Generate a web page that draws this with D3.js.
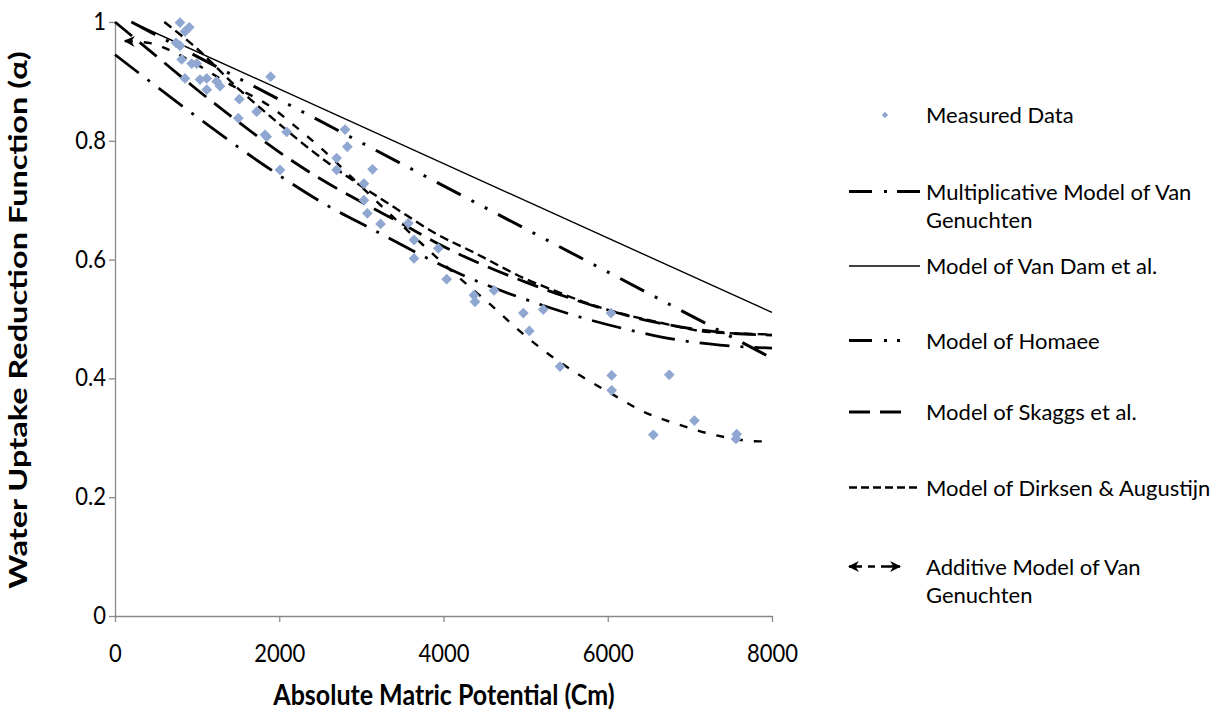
<!DOCTYPE html>
<html>
<head>
<meta charset="utf-8">
<title>Water uptake reduction</title>
<style>
  body { margin: 0; background: #fff; }
  svg text { font-family: Lato, "Open Sans", sans-serif; fill: #000; }
  .axis path, .axis line { stroke: #898989; stroke-width: 1.3px; }
  .axis text { font-size: 22px; font-family: Lato, sans-serif; fill: #000; }
  .title { font-size: 25px; font-weight: bold; }
  .legend text { font-size: 22px; }
</style>
</head>
<body>
<svg width="1223" height="715"></svg>
<script src="https://d3js.org/d3.v7.min.js"></script>
<script>

// ---- data ----
const xTicks = [0, 2000, 4000, 6000, 8000]
const yTicks = [0, 0.2, 0.4, 0.6, 0.8, 1]

const measuredX = [791, 904, 852, 743, 791, 812, 934, 995, 852, 1035, 1117, 1238, 1278, 1117, 1895,
  1514, 1725, 1502, 1847, 1826, 2091, 2009, 2801, 2829, 2699, 2699, 3136, 3031, 3031, 3073, 3234,
  3571, 3641, 3641, 3937, 4039, 4371, 4384, 4615, 4972, 5045, 5215, 6040, 5419, 6048, 6048, 6749,
  6555, 7055, 7570, 7561]
const measuredY = [0.999, 0.991, 0.984, 0.965, 0.96, 0.937, 0.93, 0.93, 0.905, 0.903, 0.905, 0.9, 0.892, 0.886, 0.908,
  0.87, 0.849, 0.838, 0.807, 0.81, 0.815, 0.751, 0.819, 0.79, 0.771, 0.751, 0.752, 0.728, 0.7, 0.678, 0.66,
  0.661, 0.633, 0.602, 0.619, 0.567, 0.54, 0.529, 0.548, 0.51, 0.48, 0.516, 0.51, 0.42, 0.405, 0.38, 0.406,
  0.305, 0.329, 0.306, 0.298]

const multVgX = [0, 1000, 1826, 2598, 3105, 4281, 5060, 5743, 6311, 6798, 7367, 8000]
const multVgY = [0.945, 0.84, 0.758, 0.69, 0.653, 0.571, 0.53, 0.5, 0.48, 0.466, 0.456, 0.451]

const vanDamX = [200, 8000]
const vanDamY = [1, 0.511]

const homaeeX = [200, 8000]
const homaeeY = [1, 0.434]

const skaggsX = [0, 500, 1000, 1500, 2000, 2500, 3000, 3500, 4000, 4500, 5000, 5500, 6000, 6500, 7000, 7500, 8000]
const skaggsY = [1, 0.943, 0.886, 0.832, 0.781, 0.736, 0.697, 0.66, 0.622, 0.59, 0.562, 0.537, 0.515, 0.497, 0.484, 0.476, 0.473]

const dirksenX = [600, 1000, 1500, 1900, 2400, 2900, 3400, 3904, 4384, 4992, 5345, 5703, 5986, 6600, 7245, 8000]
const dirksenY = [1, 0.955, 0.888, 0.84, 0.783, 0.733, 0.688, 0.644, 0.611, 0.568, 0.548, 0.529, 0.516, 0.495, 0.478, 0.474]

const additiveX = [120, 446, 658, 1000, 1400, 1898, 2233, 2578, 2892, 3500, 4228, 4566, 4952, 5297, 5650, 6035, 6433, 6871, 7326, 7854, 8000]
const additiveY = [0.968, 0.964, 0.953, 0.928, 0.895, 0.857, 0.82, 0.779, 0.737, 0.657, 0.565, 0.525, 0.477, 0.439, 0.406, 0.375, 0.344, 0.322, 0.304, 0.294, 0.295]

const legendNames = ["Measured Data", "Multiplicative Model of Van\nGenuchten", "Model of Van Dam et al.",
  "Model of Homaee", "Model of Skaggs et al.", "Model of Dirksen & Augustijn", "Additive Model of Van\nGenuchten"]

// ---- layout ----
const margin = {top: 22, right: 451, bottom: 99, left: 115}
const width = 1223 - margin.left - margin.right
const height = 715 - margin.top - margin.bottom
const stretch = 1.14   // the axis texts in the picture look a bit tall

const x = d3.scaleLinear().domain([0, 8000]).range([0, width])
const y = d3.scaleLinear().domain([0, 1]).range([height, 0])

const svg = d3.select("svg")
const defs = svg.append("defs")
defs.append("marker")
    .attr("id", "arrow")
    .attr("viewBox", "0 0 10 10")
    .attr("refX", 9).attr("refY", 5)
    .attr("markerWidth", 11).attr("markerHeight", 11)
    .attr("markerUnits", "userSpaceOnUse")
    .attr("orient", "auto-start-reverse")
  .append("path")
    .attr("d", "M0,0 L10,5 L0,10 L3,5 z")
    .attr("fill", "#000")

const g = svg.append("g").attr("transform", "translate(" + margin.left + "," + margin.top + ")")

// axes
g.append("g")
    .attr("class", "axis")
    .attr("transform", "translate(0," + height + ")")
    .call(d3.axisBottom(x).tickValues(xTicks).tickSize(6).tickSizeOuter(0).tickFormat(d3.format("d")))
  .selectAll("text")
    .attr("y", 0).attr("dy", null)
    .attr("transform", "translate(0,46) scale(1," + stretch + ")")

g.append("g")
    .attr("class", "axis")
    .call(d3.axisLeft(y).tickValues(yTicks).tickSize(6).tickSizeOuter(0).tickPadding(3).tickFormat(d => String(+d.toFixed(1))))
  .selectAll("text")
    .attr("dy", "0.3em")
    .attr("transform", "scale(1," + stretch + ")")

// model curves
const line = d3.line()
    .x(d => x(d[0]))
    .y(d => y(d[1]))
    .curve(d3.curveMonotoneX)

const models = [
  {xs: multVgX, ys: multVgY, w: 2.8, dash: "30,11,3,11"},
  {xs: vanDamX, ys: vanDamY, w: 1.4, dash: null},
  {xs: homaeeX, ys: homaeeY, w: 3, dash: "27,12,3,12,3,12"},
  {xs: skaggsX, ys: skaggsY, w: 2.8, dash: "22,10"},
  {xs: dirksenX, ys: dirksenY, w: 2.4, dash: "9,5"},
  {xs: additiveX, ys: additiveY, w: 2.4, dash: "8,11", arrow: true}
]

models.forEach(function(m) {
  const path = g.append("path")
      .datum(m.xs.map((v, i) => [v, m.ys[i]]))
      .attr("fill", "none")
      .attr("stroke", "#000")
      .attr("stroke-width", m.w)
      .attr("d", line)
  if (m.dash) path.attr("stroke-dasharray", m.dash)
  if (m.arrow) path.attr("marker-start", "url(#arrow)")
})

// measured points
const diamond = d3.symbol().type(d3.symbolSquare).size(58)
g.selectAll(".pt")
    .data(measuredX.map((v, i) => [v, measuredY[i]]))
  .enter().append("path")
    .attr("class", "pt")
    .attr("d", diamond)
    .attr("fill", "#8fa7d1")
    .attr("transform", d => "translate(" + x(d[0]) + "," + y(d[1]) + ") rotate(45)")

// axis titles
svg.append("text")
    .attr("class", "title")
    .attr("text-anchor", "middle")
    .attr("transform", "translate(444,705) scale(1," + stretch + ")")
    .text("Absolute Matric Potential (Cm)")

svg.append("text")
    .attr("class", "title")
    .attr("text-anchor", "middle")
    .attr("transform", "translate(27,320) rotate(-90) scale(1.3,1)")
    .text("Water Uptake Reduction Function (\u03b1)")

// legend
const legendY = [115, 191.5, 266, 340.5, 412, 487.5, 566.5]
const legendDash = [null, "23,12,3,10,23", null, "23,12,3,10,3,100", "21,10,21,100", "8,4", "13,6,7,6,19"]
const legend = svg.append("g").attr("class", "legend")

legendNames.forEach(function(name, i) {
  const ly = legendY[i]
  if (i === 0) {
    legend.append("path")
        .attr("d", d3.symbol().type(d3.symbolSquare).size(20))
        .attr("fill", "#8fa7d1")
        .attr("transform", "translate(885," + ly + ") rotate(45)")
  } else {
    const m = models[i - 1]
    const x2 = i === 6 ? 900 : 920
    const l = legend.append("line")
        .attr("x1", 849).attr("x2", x2)
        .attr("y1", ly).attr("y2", ly)
        .attr("stroke", "#000")
        .attr("stroke-width", m.w)
    if (legendDash[i]) l.attr("stroke-dasharray", legendDash[i])
    if (m.arrow) l.attr("marker-start", "url(#arrow)").attr("marker-end", "url(#arrow)")
  }
  name.split("\n").forEach(function(part, k) {
    legend.append("text")
        .attr("x", 926)
        .attr("y", ly + 8 + k * 28)
        .text(part)
  })
})
</script>
</body>
</html>
